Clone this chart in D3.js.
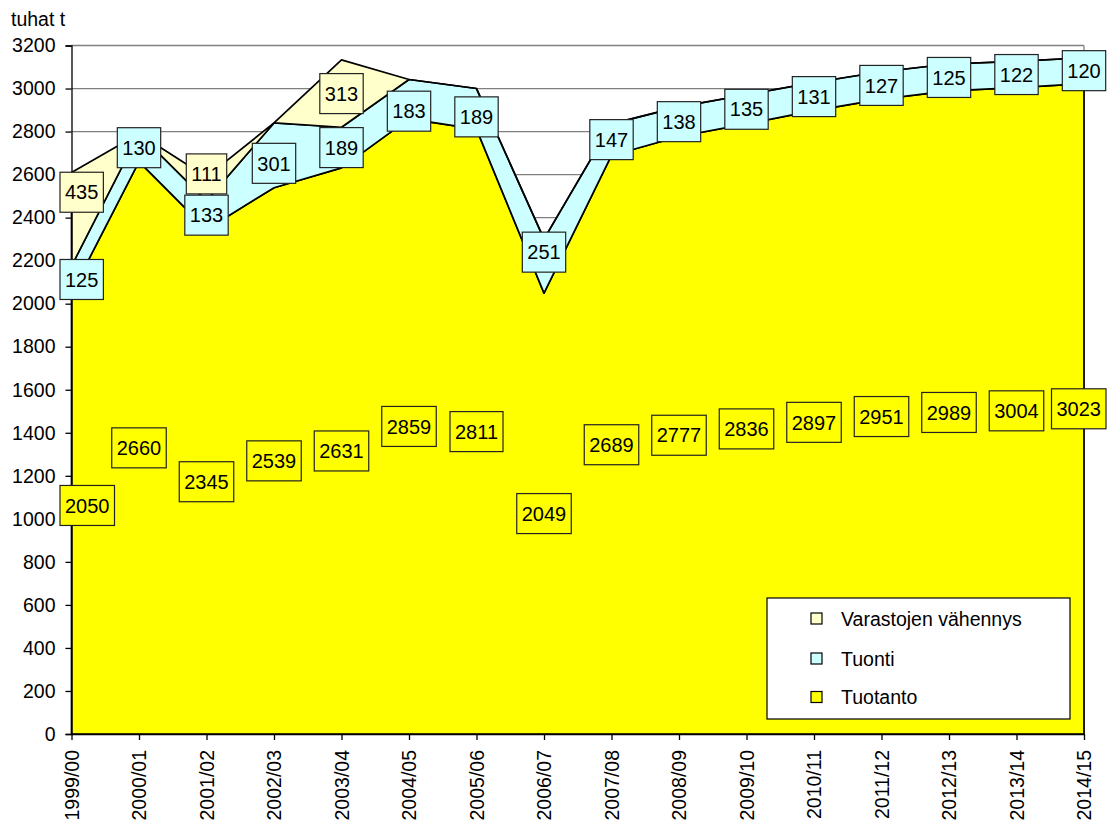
<!DOCTYPE html>
<html>
<head>
<meta charset="utf-8">
<script src="https://cdn.jsdelivr.net/npm/d3@7"></script>
<style>
  body { margin: 0; background: #fff; }
  svg text { font-family: "Liberation Sans", Arial, sans-serif; fill: #000; }
</style>
</head>
<body>
<svg id="chart" width="1107" height="823"></svg>
<script>
/*
  Stacked area chart
*/

var years = ["1999/00", "2000/01", "2001/02", "2002/03", "2003/04", "2004/05", "2005/06", "2006/07",
             "2007/08", "2008/09", "2009/10", "2010/11", "2011/12", "2012/13", "2013/14", "2014/15"];
var tuotanto = [2050, 2660, 2345, 2539, 2631, 2859, 2811, 2049, 2689, 2777, 2836, 2897, 2951, 2989, 3004, 3023];
var tuonti = [125, 130, 133, 301, 189, 183, 189, 251, 147, 138, 135, 131, 127, 125, 122, 120];
var varastot = [435, 0, 111, 0, 313, 0, 0, 0, 0, 0, 0, 0, 0, 0, 0, 0];
var yTicks = [0, 200, 400, 600, 800, 1000, 1200, 1400, 1600, 1800, 2000, 2200, 2400, 2600, 2800, 3000, 3200];

var seriesInfo = [
  {key: "tuotanto", name: "Tuotanto", color: "#ffff00"},
  {key: "tuonti", name: "Tuonti", color: "#ccffff"},
  {key: "varastot", name: "Varastojen vähennys", color: "#ffffcc"}
];

// label boxes that sit off the band middle (px)
var labelNudge = {"tuotanto-0": -8, "varastot-0": -27, "varastot-2": -15,
                  "tuonti-3": 8, "tuonti-5": 12, "tuonti-6": 8, "tuonti-7": -14};

var fontSize = "19.5px";
var plot = {left: 71.5, right: 1084, top: 45.5, bottom: 734};
var labelBounds = [60, 1106];

var svg = d3.select("#chart");

var data = years.map(function(y, i) {
  return {label: y, tuotanto: tuotanto[i], tuonti: tuonti[i], varastot: varastot[i]};
});

var x = d3.scalePoint().domain(years).range([plot.left, plot.right]);
var y = d3.scaleLinear().domain([0, 3200]).range([plot.bottom, plot.top]);

var stacked = d3.stack().keys(seriesInfo.map(function(s) { return s.key; }))(data);

//Gridlines
svg.append("g")
  .selectAll("line")
  .data(yTicks.filter(function(d) { return d > 0; }))
  .enter().append("line")
    .attr("x1", plot.left)
    .attr("x2", plot.right)
    .attr("y1", function(d) { return y(d); })
    .attr("y2", function(d) { return y(d); })
    .attr("stroke", "#808080")
    .attr("stroke-width", 1.3);

svg.append("line")
  .attr("x1", plot.right).attr("x2", plot.right)
  .attr("y1", plot.top).attr("y2", plot.bottom)
  .attr("stroke", "#808080")
  .attr("stroke-width", 1.3);

//Areas
var area = d3.area()
  .x(function(d) { return x(d.data.label); })
  .y0(function(d) { return y(d[0]); })
  .y1(function(d) { return y(d[1]); });

svg.append("g")
  .selectAll("path")
  .data(stacked)
  .enter().append("path")
    .attr("d", area)
    .attr("fill", function(d, i) { return seriesInfo[i].color; })
    .attr("stroke", "#000")
    .attr("stroke-width", 1.7)
    .attr("stroke-linejoin", "round");

//Drop lines
var top = stacked[stacked.length - 1];
svg.append("g")
  .selectAll("line")
  .data(top)
  .enter().append("line")
    .attr("x1", function(d) { return x(d.data.label); })
    .attr("x2", function(d) { return x(d.data.label); })
    .attr("y1", function(d) { return y(d[1]); })
    .attr("y2", y(0))
    .attr("stroke", "#000")
    .attr("stroke-width", 1.3);

//Axes
svg.append("g")
  .attr("transform", "translate(" + plot.left + ",0)")
  .call(d3.axisLeft(y).tickValues(yTicks).tickSize(6).tickPadding(10).tickFormat(d3.format("d")))
  .call(function(g) {
    g.select(".domain").attr("stroke", "#000").attr("stroke-width", 1.3);
    g.selectAll(".tick line").attr("stroke", "#000").attr("stroke-width", 1.3);
    g.selectAll("text").style("font-size", fontSize).attr("fill", "#000").attr("font-family", null);
  });

svg.append("g")
  .attr("transform", "translate(0," + plot.bottom + ")")
  .call(d3.axisBottom(x).tickSize(6).tickSizeOuter(0))
  .call(function(g) {
    g.select(".domain").attr("stroke", "#000").attr("stroke-width", 1.3);
    g.selectAll(".tick line").attr("stroke", "#000").attr("stroke-width", 1.3);
    g.selectAll("text")
      .style("font-size", fontSize)
      .attr("fill", "#000")
      .attr("font-family", null)
      .attr("transform", "rotate(-90)")
      .attr("x", -16)
      .attr("y", 0)
      .attr("dy", "0.35em")
      .style("text-anchor", "end");
  });

svg.append("text")
  .attr("x", 11)
  .attr("y", 26)
  .style("font-size", fontSize)
  .text("tuhat t");

//Data labels
stacked.forEach(function(layer, si) {
  var info = seriesInfo[si];
  layer.forEach(function(d, i) {
    var value = d[1] - d[0];
    if (!value) return;
    var g = svg.append("g");
    var rect = g.append("rect");
    var t = g.append("text")
      .attr("text-anchor", "middle")
      .attr("dy", "0.36em")
      .style("font-size", "20px")
      .text(value);
    var w = t.node().getComputedTextLength() + 10;
    // keep boxes inside the chart edges
    var cx = Math.min(Math.max(x(d.data.label), labelBounds[0] + w / 2), labelBounds[1] - w / 2),
        cy = y((d[0] + d[1]) / 2) + (labelNudge[info.key + "-" + i] || 0);
    g.attr("transform", "translate(" + cx + "," + cy + ")");
    rect.attr("x", -w / 2)
      .attr("y", -20)
      .attr("width", w)
      .attr("height", 40)
      .attr("fill", info.color)
      .attr("stroke", "#222")
      .attr("stroke-width", 1.2);
  });
});

//Legend
var legend = svg.append("g").attr("transform", "translate(767,598)");
legend.append("rect")
  .attr("width", 303)
  .attr("height", 121)
  .attr("fill", "#fff")
  .attr("stroke", "#000")
  .attr("stroke-width", 1.2);

var legendRows = [seriesInfo[2], seriesInfo[1], seriesInfo[0]];
var rowY = [20.5, 60.5, 99];
legend.selectAll("g.item")
  .data(legendRows)
  .enter().append("g")
    .attr("class", "item")
    .attr("transform", function(d, i) { return "translate(0," + rowY[i] + ")"; })
    .each(function(d) {
      var item = d3.select(this);
      item.append("rect")
        .attr("x", 44)
        .attr("y", -5.5)
        .attr("width", 11)
        .attr("height", 11)
        .attr("fill", d.color)
        .attr("stroke", "#000")
        .attr("stroke-width", 1.2);
      item.append("text")
        .attr("x", 74)
        .attr("dy", "0.36em")
        .style("font-size", fontSize)
        .text(d.name);
    });
</script>
</body>
</html>
